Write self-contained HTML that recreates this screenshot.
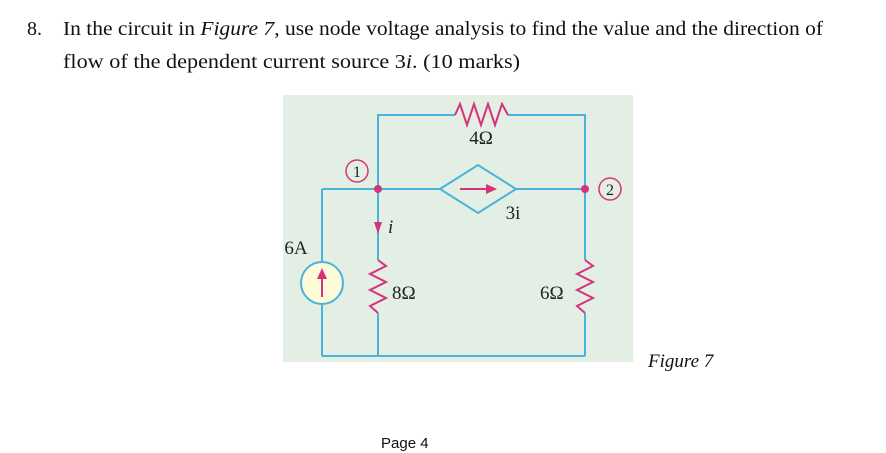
<!DOCTYPE html>
<html><head><meta charset="utf-8"><style>
html,body{margin:0;padding:0;background:#fff;width:886px;height:453px;overflow:hidden}
svg{font-family:"Liberation Serif",serif}
</style></head><body>
<svg width="886" height="453" xmlns="http://www.w3.org/2000/svg">
<text x="27" y="35" font-size="20" fill="#111">8.</text>
<text x="63" y="35" font-size="20" fill="#111" textLength="760" lengthAdjust="spacingAndGlyphs">In the circuit in <tspan font-style="italic">Figure 7</tspan>, use node voltage analysis to find the value and the direction of</text>
<text x="63" y="68" font-size="20" fill="#111" textLength="457" lengthAdjust="spacingAndGlyphs">flow of the dependent current source 3<tspan font-style="italic">i</tspan>.    (10 marks)</text>
<rect x="283" y="95" width="350" height="267" fill="#e3efe4"/>
<g stroke="#4ab3d9" stroke-width="2" fill="none">
<polyline points="455,115 378,115 378,260"/>
<polyline points="508,115 585,115 585,260"/>
<line x1="322" y1="189" x2="440" y2="189"/>
<line x1="516" y1="189" x2="585" y2="189"/>
<line x1="322" y1="189" x2="322" y2="261"/>
<line x1="322" y1="305" x2="322" y2="356"/>
<line x1="378" y1="313" x2="378" y2="356"/>
<line x1="585" y1="313" x2="585" y2="356"/>
<line x1="322" y1="356" x2="585" y2="356"/>
<polygon points="440,189 478,165 516,189 478,213"/>
<circle cx="322" cy="283" r="21" fill="#fdfbd8"/>
</g>
<g stroke="#d6337a" stroke-width="2" fill="none">
<polyline points="455,115 460,104 467,125 474,104 481,125 488,104 495,125 502,104 508,115"/>
<polyline points="378,260 386,266 370,274 386,282 370,290 386,298 370,306 378,313"/>
<polyline points="585,260 593,266 577,274 593,282 577,290 593,298 577,306 585,313"/>
<circle cx="357" cy="171" r="11" stroke-width="1.5"/>
<circle cx="610" cy="189" r="11" stroke-width="1.5"/>
<line x1="460" y1="189" x2="488" y2="189"/>
<line x1="322" y1="297" x2="322" y2="277"/>
</g>
<g fill="#d6337a">
<circle cx="378" cy="189" r="4"/><circle cx="585" cy="189" r="4"/>
<polygon points="486,184 497,189 486,194"/>
<polygon points="374,222 382,222 378,234"/>
<polygon points="317,279 327,279 322,268"/>
</g>
<g fill="#222" font-size="19">
<text x="481" y="144" text-anchor="middle">4Ω</text>
<text x="357" y="177" text-anchor="middle" font-size="16">1</text>
<text x="610" y="195" text-anchor="middle" font-size="16">2</text>
<text x="513" y="219" text-anchor="middle">3i</text>
<text x="388" y="233" font-style="italic">i</text>
<text x="296" y="254" text-anchor="middle">6A</text>
<text x="392" y="299">8Ω</text>
<text x="540" y="299">6Ω</text>
</g>
<text x="648" y="367" font-size="19" font-style="italic" fill="#111">Figure 7</text>
<text x="381" y="448" font-size="15" style="font-family:'Liberation Sans',sans-serif" fill="#111">Page 4</text>
</svg>
</body></html>
